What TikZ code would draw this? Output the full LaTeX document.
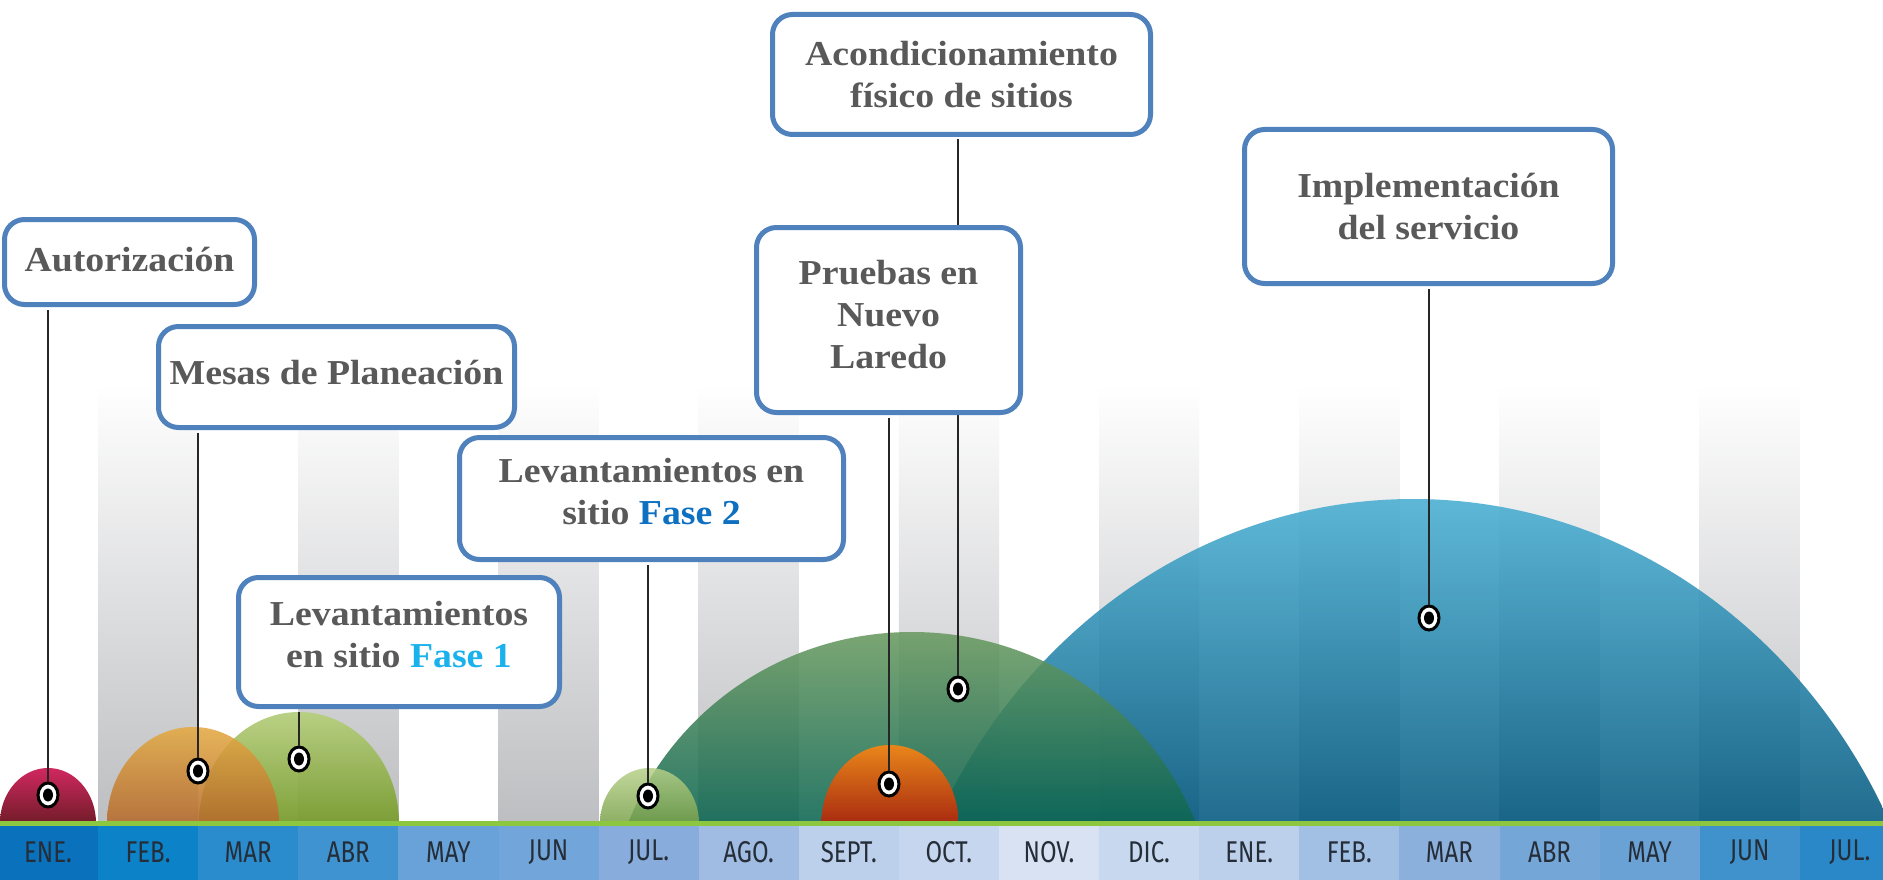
\documentclass[tikz,border=0pt]{standalone}
\usepackage{fontspec}
\usetikzlibrary{shapes.geometric}
\newfontfamily\boxfont{Liberation Serif}[FakeStretch=1.08]
\newfontfamily\monthfont{Fira Sans}[FakeStretch=0.8]
\definecolor{boxblue}{HTML}{4F81BD}
\definecolor{txtgray}{HTML}{595959}
\definecolor{faseone}{HTML}{1AB2EC}
\definecolor{fasetwo}{HTML}{0E70C0}
\definecolor{stripegray}{HTML}{BDBEC1}
\definecolor{barline}{HTML}{8DC63F}
\definecolor{monthtxt}{HTML}{252D38}
\definecolor{blueT}{HTML}{48AED2}
\definecolor{blueM}{HTML}{2897BD}
\definecolor{blueB}{HTML}{03587F}
\definecolor{greenT}{HTML}{6A9A60}
\definecolor{greenM}{HTML}{35906E}
\definecolor{greenB}{HTML}{0A6552}
\definecolor{julT}{HTML}{B8D18A}
\definecolor{julB}{HTML}{78A048}
\definecolor{orredT}{HTML}{E9861A}
\definecolor{orredB}{HTML}{A82A10}
\definecolor{redT}{HTML}{D02860}
\definecolor{redB}{HTML}{701C28}
\definecolor{lgreenT}{HTML}{B7CF7F}
\definecolor{lgreenB}{HTML}{789C2E}
\definecolor{orangeT}{HTML}{E3AA42}
\definecolor{orangeB}{HTML}{B5692C}
\definecolor{m0}{HTML}{0A72BC}
\definecolor{m1}{HTML}{0C82C8}
\definecolor{m2}{HTML}{2A8CCC}
\definecolor{m3}{HTML}{3E93D0}
\definecolor{m4}{HTML}{68A2D8}
\definecolor{m5}{HTML}{72A6DA}
\definecolor{m6}{HTML}{88ACDC}
\definecolor{m7}{HTML}{A0BCE2}
\definecolor{m8}{HTML}{BCD0EC}
\definecolor{m9}{HTML}{C6D6EE}
\definecolor{m10}{HTML}{D8E2F2}
\definecolor{m11}{HTML}{C8D8EF}
\definecolor{m12}{HTML}{BCD0EB}
\definecolor{m13}{HTML}{A2C0E4}
\definecolor{m14}{HTML}{8CB0DC}
\definecolor{m15}{HTML}{74A6D8}
\definecolor{m16}{HTML}{6AA2D6}
\definecolor{m17}{HTML}{4092CC}
\definecolor{m18}{HTML}{2A88C8}
\newcommand{\mydome}[5]{%
  \begin{scope}
    \clip (#1,#2) ellipse [x radius=#3pt, y radius=#4pt];
    \shade[#5] ({#1-#3},{#2-#4}) rectangle ({#1+#3},824);
  \end{scope}}
\tikzset{
  event/.style={draw=boxblue, line width=5pt, fill=white, rounded corners=20pt,
    text=txtgray, font=\boxfont\bfseries\fontsize{35}{42}\selectfont,
    align=center, inner sep=0pt},
  pinmark/.style={ellipse, draw=black, line width=3pt, fill=white,
    minimum width=20pt, minimum height=24pt, inner sep=0pt,
    path picture={\fill[black] (path picture bounding box.center) ellipse [x radius=5pt, y radius=6.5pt];}},
  conn/.style={draw=black!85, line width=2pt, shorten >=2.5pt},
  monthlbl/.style={text=monthtxt, font=\monthfont\fontsize{30}{30}\selectfont, inner sep=0pt}
}
\begin{document}
\begin{tikzpicture}[x=1pt,y=-1pt]
\useasboundingbox (0,0) rectangle (1883,880);
\clip (0,0) rectangle (1883,880);
\fill[white] (0,0) rectangle (1883,880);
% grey stripes
\foreach \i in {1,3,...,17}
  \shade[top color=white, bottom color=stripegray] ({100.1*\i-2},384) rectangle ({100.1*\i+98.1},824);
% domes
\mydome{1413}{1071}{529}{572}{fill opacity=0.88, top color=blueT, middle color=blueM, bottom color=blueB}
\mydome{912}{930}{304}{298}{fill opacity=0.88, top color=greenT, middle color=greenM, bottom color=greenB}
\mydome{649.5}{823}{49.5}{55}{fill opacity=0.85, top color=julT, bottom color=julB}
\mydome{890}{823}{68.5}{78}{top color=orredT, bottom color=orredB}
\mydome{48}{823}{48}{55}{top color=redT, bottom color=redB}
\mydome{299}{823}{100}{111}{fill opacity=0.95, top color=lgreenT, bottom color=lgreenB}
\mydome{193}{823}{86}{96}{fill opacity=0.88, top color=orangeT, bottom color=orangeB}
% month bar
\foreach \t [count=\i from 0] in {ENE.,FEB.,MAR,ABR,MAY,JUN,JUL.,AGO.,SEPT.,OCT.,NOV.,DIC.,ENE.,FEB.,MAR,ABR,MAY,JUN,JUL.}{
  \fill[m\i] ({100.1*\i-2},825) rectangle ({100.1*\i+98.6},880);
  \node[monthlbl] (month\i) at ({100.1*\i+48},852) {\t};
}
\fill[barline] (0,821) rectangle (1883,826);
% pins
\node[pinmark] (pa) at (48,795) {};
\node[pinmark] (pb) at (198,771) {};
\node[pinmark] (pc) at (299,759) {};
\node[pinmark] (pd) at (648,796) {};
\node[pinmark] (pe) at (958,689) {};
\node[pinmark] (pf) at (889,784) {};
\node[pinmark] (pg) at (1429,618) {};
% boxes
\node[event, minimum width=250pt, minimum height=85pt, text depth=6pt] (auto) at (129.5,262) {Autorización};
\node[event, minimum width=356pt, minimum height=101pt, text depth=9pt] (mesas) at (336.5,377) {Mesas de Planeación};
\node[event, minimum width=321pt, minimum height=129pt, text depth=16pt] (fone) at (399,642) {Levantamientos\\en sitio \textcolor{faseone}{Fase 1}};
\node[event, minimum width=384pt, minimum height=122pt, text depth=14pt] (ftwo) at (651.5,498.5) {Levantamientos en\\sitio \textcolor{fasetwo}{Fase 2}};
\node[event, minimum width=378pt, minimum height=120pt] (acond) at (961.5,74.5) {Acondicionamiento\\físico de sitios};
\node[event, minimum width=368pt, minimum height=154pt] (impl) at (1428.5,206.5) {Implementación\\del servicio};
% connectors
\draw[conn] (pa.north) -- (pa.north |- auto.south);
\draw[conn] (pb.north) -- (pb.north |- mesas.south);
\draw[conn] (pc.north) -- (pc.north |- fone.south);
\draw[conn] (pd.north) -- (pd.north |- ftwo.south);
\draw[conn] (pe.north) -- (pe.north |- acond.south);
\draw[conn] (pg.north) -- (pg.north |- impl.south);
\node[event, minimum width=264pt, minimum height=185pt, text depth=12pt] (pruebas) at (888.5,320) {Pruebas en\\Nuevo\\Laredo};
\draw[conn] (pf.north) -- (pf.north |- pruebas.south);
\end{tikzpicture}
\end{document}
